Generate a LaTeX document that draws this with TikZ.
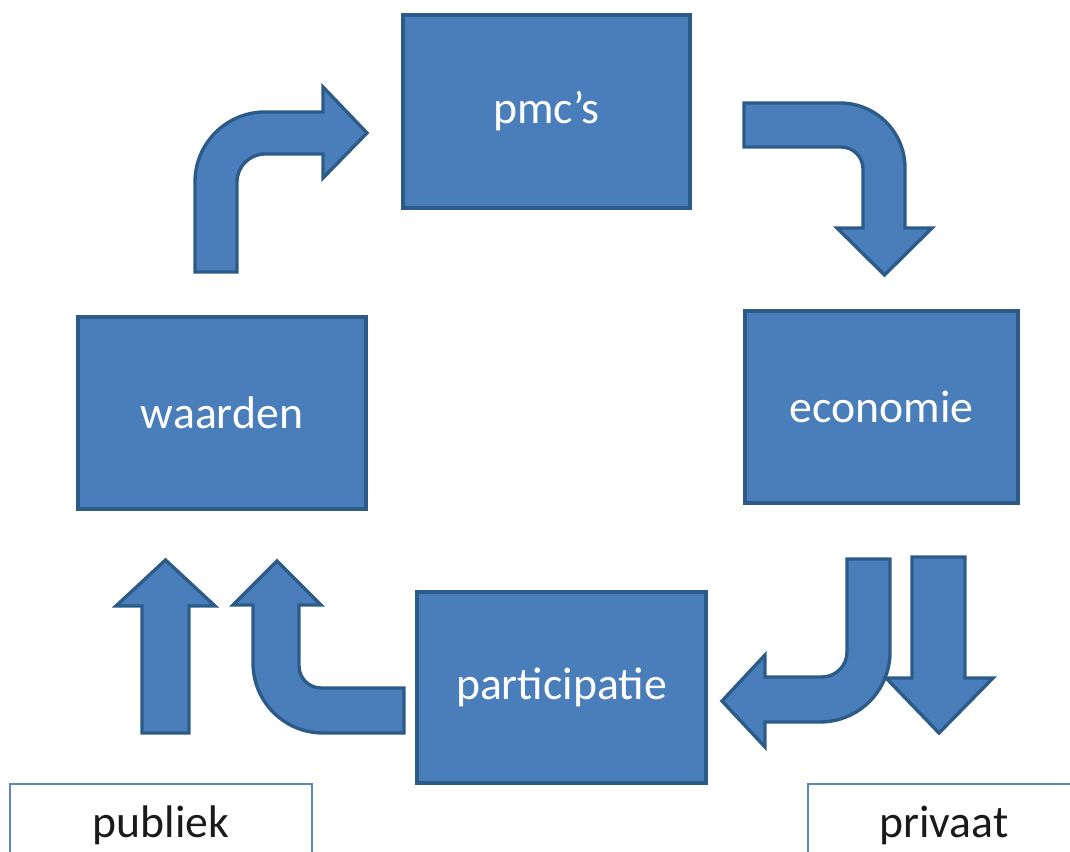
\documentclass[tikz,border=0pt]{standalone}
\usepackage{fontspec}
\setmainfont{Carlito}
\usepackage{tikz}

\definecolor{blokvul}{HTML}{4A7EBB}
\definecolor{bloklijn}{HTML}{2C5B8A}
\definecolor{kaderlijn}{HTML}{5B87BF}
\definecolor{tekstzwart}{HTML}{1A1A1A}

\tikzset{
  blok/.style={rectangle,fill=blokvul,draw=bloklijn,line width=2.4pt,
    text=white,font=\fontsize{32.5}{39}\selectfont},
  pijl/.style={fill=blokvul,draw=bloklijn,line width=2.4pt,line join=miter},
  kader/.style={draw=kaderlijn,line width=0.8pt},
  kadertekst/.style={text=tekstzwart,font=\fontsize{32.5}{39}\selectfont}
}

\begin{document}
\begin{tikzpicture}[x=0.025cm,y=0.025cm]
\useasboundingbox (0,0) rectangle (1070,852);
\clip (0,0) rectangle (1070,852);

\node[blok,minimum width=7.175cm,minimum height=4.825cm] (pmc) at (546.5,740.5) {pmc’s};
\node[blok,minimum width=7.2cm,minimum height=4.8cm] (waarden) at (222,439) {waarden};
\node[blok,minimum width=6.825cm,minimum height=4.8cm] (economie) at (881.5,445) {economie};
\node[blok,minimum width=7.225cm,minimum height=4.775cm] (participatie) at (561.5,164.5) {participatie};

% bent arrow waarden -> pmc's
\draw[pijl] (195,580) -- (195,670) arc[start angle=180,end angle=90,radius=70]
  -- (323,740) -- (323,765) -- (367,719) -- (323,674) -- (323,698) -- (265,698)
  arc[start angle=90,end angle=180,radius=28] -- (237,580) -- cycle;

% bent arrow pmc's -> economie
\draw[pijl] (744,749) -- (840,749) arc[start angle=90,end angle=0,radius=65]
  -- (905,624) -- (932,624) -- (884.5,577) -- (837,624) -- (863,624) -- (863,683)
  arc[start angle=0,end angle=90,radius=22] -- (744,705) -- cycle;

% economie -> participatie and down
\draw[pijl] (847,293) -- (847,200) arc[start angle=0,end angle=-90,radius=25]
  -- (765,175) -- (765,197) -- (722,151) -- (765,105) -- (765,130) -- (820,130)
  arc[start angle=-90,end angle=0,radius=70] -- (890,293) -- cycle;
\draw[pijl] (912,295) -- (965,295) -- (965,174) -- (993,174) -- (939,119)
  -- (886,174) -- (912,174) -- cycle;

% up to waarden
\draw[pijl] (142,119) -- (142,246) -- (116,246) -- (165.5,292) -- (215,246)
  -- (189,246) -- (189,119) -- cycle;
\draw[pijl] (404,164) -- (321,164) arc[start angle=-90,end angle=-180,radius=22]
  -- (299,247) -- (321,247) -- (277,291) -- (233,247) -- (253,247) -- (253,189)
  arc[start angle=180,end angle=270,radius=70] -- (404,119) -- cycle;

% publiek / privaat
\draw[kader] (10,-10) -- (10,68) -- (312,68) -- (312,-10);
\draw[kader] (808,-10) -- (808,68) -- (1080,68);
\node[kadertekst] (publiek) at (161,27) {publiek};
\node[kadertekst] (privaat) at (944,27) {privaat};
\end{tikzpicture}
\end{document}
